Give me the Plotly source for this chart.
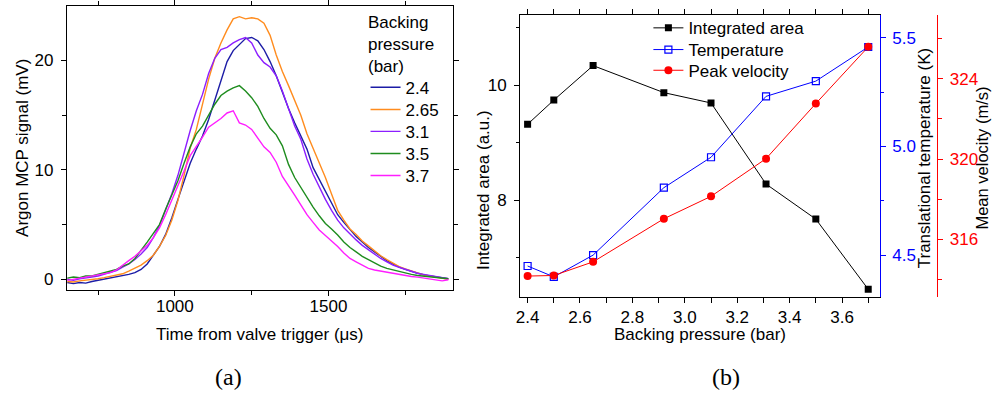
import plotly.graph_objects as go

# ---------------- (a) argon time-of-flight traces ----------------
time_us = list(range(650, 1900, 20))

signal_2p4 = [-0.3, -0.4, -0.3, -0.35, -0.2, -0.1, 0.0, 0.15, 0.2, 0.3, 0.45, 0.6, 0.9, 1.4,
              2.2, 3.0, 4.1, 5.6, 7.3, 9.0, 10.6, 11.9, 13.1, 14.6, 16.4, 18.3, 19.9, 20.9,
              21.5, 22.0, 22.1, 21.8, 21.0, 19.9, 18.6, 17.0, 15.6, 14.3, 13.1, 11.9, 10.2,
              9.1, 7.95, 6.9, 5.9, 5.2, 4.5, 3.9, 3.4, 2.9, 2.5, 2.1, 1.7, 1.4, 1.1, 0.9,
              0.7, 0.55, 0.4, 0.3, 0.2, 0.15, 0.05]
signal_2p65 = [-0.2, -0.25, -0.15, -0.1, 0.0, 0.05, 0.15, 0.25, 0.4, 0.5, 0.75, 1.0, 1.3, 1.7,
               2.2, 3.0, 4.0, 5.4, 7.2, 9.5, 12.0, 13.7, 15.9, 18.3, 20.2, 21.6, 22.8, 23.8,
               24.0, 23.8, 23.9, 23.8, 23.4, 22.3, 20.5, 19.0, 17.7, 16.4, 15.0, 13.3, 12.0,
               10.7, 9.3, 7.8, 6.3, 5.4, 4.6, 4.1, 3.5, 3.05, 2.6, 2.15, 1.8, 1.45, 1.15, 0.95,
               0.75, 0.55, 0.4, 0.3, 0.2, 0.15, 0.0]
signal_3p1 = [0.0, -0.1, 0.05, 0.1, 0.2, 0.3, 0.45, 0.6, 0.8, 1.1, 1.4, 1.8, 2.3, 2.9,
              3.8, 4.9, 6.3, 7.8, 9.5, 11.6, 13.6, 15.4, 16.9, 18.8, 20.2, 21.0, 21.2, 21.6,
              21.9, 22.1, 21.6, 20.5, 19.8, 19.4, 18.6, 17.2, 15.5, 14.0, 12.8, 11.0, 9.6,
              8.4, 7.3, 6.3, 5.4, 4.7, 4.1, 3.6, 3.1, 2.7, 2.3, 1.9, 1.6, 1.3, 1.1, 0.9,
              0.7, 0.55, 0.45, 0.35, 0.25, 0.15, 0.05]
signal_3p5 = [0.1, 0.2, 0.15, 0.3, 0.3, 0.45, 0.55, 0.75, 0.9, 1.2, 1.4, 1.9, 2.6, 3.4,
              4.2, 5.0, 6.4, 7.7, 9.0, 10.6, 12.1, 13.3, 14.0, 15.0, 16.0, 16.8, 17.2, 17.5,
              17.7, 17.2, 16.6, 15.8, 14.7, 13.8, 13.2, 12.2, 10.5, 9.3, 8.4, 7.4, 6.6,
              5.8, 5.1, 4.6, 4.05, 3.4, 2.9, 2.5, 2.1, 1.8, 1.5, 1.2, 1.0, 0.85, 0.7, 0.55,
              0.45, 0.35, 0.3, 0.25, 0.15, 0.1, 0.05]
signal_3p7 = [-0.1, 0.0, 0.1, 0.15, 0.25, 0.35, 0.45, 0.6, 0.85, 1.3, 1.7, 2.1, 2.6, 3.1,
              3.8, 4.7, 5.9, 7.2, 8.5, 9.9, 11.3, 12.1, 13.0, 13.9, 14.3, 14.7, 15.2, 15.4,
              14.3, 14.1, 13.7, 12.9, 12.1, 11.6, 10.7, 9.4, 8.6, 7.7, 6.8, 5.9, 5.2,
              4.5, 4.0, 3.5, 3.0, 2.4, 1.9, 1.6, 1.3, 1.0, 0.85, 0.75, 0.6, 0.55, 0.45, 0.35,
              0.25, 0.2, 0.1, 0.0, -0.05, -0.15, -0.05]

trace_labels = ["2.4", "2.65", "3.1", "3.5", "3.7"]
trace_colors = ["#1c1ca6", "#ff8c1e", "#8c1eff", "#1e8c1e", "#ff1eff"]
trace_values = [signal_2p4, signal_2p65, signal_3p1, signal_3p5, signal_3p7]

# ---------------- (b) fitted beam parameters ----------------
pressure_bar = [2.4, 2.5, 2.65, 2.92, 3.1, 3.31, 3.5, 3.7]
integrated_area = [9.32, 9.74, 10.34, 9.87, 9.69, 8.28, 7.67, 6.45]
temperature_K = [4.45, 4.40, 4.50, 4.81, 4.95, 5.23, 5.30, 5.457]
peak_velocity = [314.16, 314.19, 314.87, 317.02, 318.14, 320.02, 322.77, 325.6]

W, H = 993, 394
FONT = "Liberation Sans, Arial, sans-serif"
FS = 17
BLUE = "#0000ff"
RED = "#ff0000"

fig = go.Figure()

# one single-entry legend per series so every row can be placed on its own
left_rows = [87.7, 110.0, 131.8, 154.0, 176.0]
for i, (label, vals, color) in enumerate(zip(trace_labels, trace_values, trace_colors)):
    fig.add_trace(go.Scatter(
        x=time_us, y=vals, mode="lines", name=label,
        line=dict(color=color, width=1.4),
        xaxis="x", yaxis="y", legend="legend" if i == 0 else f"legend{i + 1}",
    ))

fig.add_trace(go.Scatter(
    x=pressure_bar, y=integrated_area, mode="lines+markers", name="Integrated area",
    line=dict(color="black", width=1),
    marker=dict(symbol="square", size=7, color="black"),
    xaxis="x2", yaxis="y2", legend="legend6",
))
fig.add_trace(go.Scatter(
    x=pressure_bar, y=temperature_K, mode="lines+markers", name="Temperature",
    line=dict(color=BLUE, width=1),
    marker=dict(symbol="square-open", size=7, color=BLUE, line=dict(width=1.2)),
    xaxis="x2", yaxis="y3", legend="legend7",
))
fig.add_trace(go.Scatter(
    x=pressure_bar, y=peak_velocity, mode="lines+markers", name="Peak velocity",
    line=dict(color=RED, width=1),
    marker=dict(symbol="circle", size=8, color=RED),
    xaxis="x2", yaxis="y4", legend="legend8",
))
right_rows = [28.3, 50.0, 70.7]


def axis(color="black", **kw):
    base = dict(
        showline=True, linecolor=color, linewidth=1.2,
        ticks="outside", ticklen=5, tickwidth=1.2, tickcolor=color,
        showgrid=False, zeroline=False,
        tickfont=dict(family=FONT, size=FS, color=color),
    )
    base.update(kw)
    return base


def minor(dtick, tick0=0, color="black"):
    return dict(ticks="outside", dtick=dtick, tick0=tick0, ticklen=3.5,
                tickwidth=1.2, tickcolor=color, showgrid=False)


def legend_box(x_px, y_px):
    return dict(
        x=x_px / W, y=1 - y_px / H, xanchor="left", yanchor="middle",
        bgcolor="rgba(0,0,0,0)", borderwidth=0,
        font=dict(family=FONT, size=FS, color="black"),
    )


legends = {}
for i, row in enumerate(left_rows):
    legends["legend" if i == 0 else f"legend{i + 1}"] = legend_box(363, row)
for i, row in enumerate(right_rows):
    legends[f"legend{i + 6}"] = legend_box(647, row)

fig.update_layout(
    width=W, height=H,
    margin=dict(l=0, r=0, t=0, b=0),
    paper_bgcolor="white", plot_bgcolor="white",
    font=dict(family=FONT, size=FS, color="black"),
    showlegend=True,
    xaxis=axis(domain=[0.0637, 0.4539], range=[649, 1905], anchor="y",
               mirror="allticks", dtick=500, tick0=0, minor=minor(250),
               ticklabelstandoff=-4),
    yaxis=axis(domain=[0.264, 0.9848], range=[-0.98, 24.98], anchor="x",
               mirror="allticks", dtick=10, tick0=0, minor=minor(5),
               ticklabelstandoff=4),
    xaxis2=axis(domain=[0.522, 0.8855], range=[2.372, 3.744], anchor="y2",
                mirror="allticks", dtick=0.2, tick0=0, tickformat=".1f",
                minor=minor(0.1), ticklabelstandoff=-1),
    yaxis2=axis(domain=[0.2454, 0.9619], range=[6.31, 11.22], anchor="x2",
                dtick=2, tick0=0, minor=minor(1), ticklabelstandoff=4),
    yaxis3=axis(color=BLUE, overlaying="y2", anchor="x2", side="right",
                range=[4.306, 5.604], dtick=0.5, tick0=0, tickformat=".1f",
                minor=minor(0.25, color=BLUE), ticklabelstandoff=3),
    yaxis4=axis(color=RED, overlaying="y2", anchor="free", position=0.9436,
                side="right", range=[313.1, 327.19], dtick=4, tick0=0,
                minor=minor(2, color=RED), ticklabelstandoff=3),
    **legends,
)

# heading above the pressure legend
fig.add_annotation(
    text="Backing<br>pressure<br>(bar)", x=363.5 / W, y=1 - 44.3 / H,
    xref="paper", yref="paper", xanchor="left", yanchor="middle", align="left",
    showarrow=False, font=dict(family=FONT, size=FS, color="black"),
)

titles = [
    dict(text="Argon MCP signal (mV)", x=18.5, y=147.5, angle=-90, size=FS),
    dict(text="Time from valve trigger (\u03bcs)", x=257, y=334, angle=0, size=FS),
    dict(text="Backing pressure (bar)", x=698.8, y=334, angle=0, size=FS),
    dict(text="Integrated area (a.u.)", x=481, y=190, angle=-90, size=FS),
    dict(text="Translational temperature (K)", x=924, y=158, angle=-90, size=FS),
    dict(text="Mean velocity (m/s)", x=981.5, y=158, angle=-90, size=16.5),
]
for t in titles:
    fig.add_annotation(
        text=t["text"], x=t["x"] / W, y=1 - t["y"] / H,
        xref="paper", yref="paper", xanchor="center", yanchor="middle",
        textangle=t["angle"], showarrow=False,
        font=dict(family=FONT, size=t["size"], color="black"),
    )

for text, px, py in [("(a)", 225, 377), ("(b)", 725, 376.5)]:
    fig.add_annotation(
        text=text, x=px / W, y=1 - py / H, xref="paper", yref="paper",
        xanchor="center", yanchor="middle", showarrow=False,
        font=dict(family="Liberation Serif, DejaVu Serif, serif", size=24, color="black"),
    )

fig.write_html("out.html")
